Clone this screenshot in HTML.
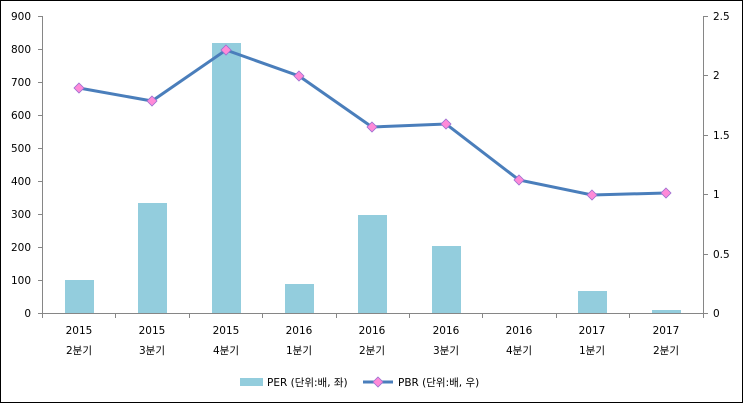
<!DOCTYPE html>
<html><head><meta charset="utf-8"><style>
body{margin:0;background:#fff}
svg{display:block}
text{font-family:"DejaVu Sans","Noto Sans CJK KR",sans-serif;font-size:10.5px;fill:#000}
</style></head><body>
<svg width="743" height="403" xmlns="http://www.w3.org/2000/svg">
<rect x="0.5" y="0.5" width="742" height="402" fill="#fff" stroke="#000"/>
<g stroke="#868686" stroke-width="1">
<line x1="42.5" y1="16" x2="42.5" y2="313"/>
<line x1="703.5" y1="16" x2="703.5" y2="313"/>
<line x1="42" y1="313.5" x2="704" y2="313.5"/>
<line x1="38" y1="16.5" x2="42" y2="16.5"/><line x1="38" y1="49.5" x2="42" y2="49.5"/><line x1="38" y1="82.5" x2="42" y2="82.5"/><line x1="38" y1="115.5" x2="42" y2="115.5"/><line x1="38" y1="148.5" x2="42" y2="148.5"/><line x1="38" y1="181.5" x2="42" y2="181.5"/><line x1="38" y1="214.5" x2="42" y2="214.5"/><line x1="38" y1="247.5" x2="42" y2="247.5"/><line x1="38" y1="280.5" x2="42" y2="280.5"/><line x1="38" y1="313.5" x2="42" y2="313.5"/>
<line x1="704" y1="16.5" x2="708" y2="16.5"/><line x1="704" y1="75.5" x2="708" y2="75.5"/><line x1="704" y1="135.5" x2="708" y2="135.5"/><line x1="704" y1="194.5" x2="708" y2="194.5"/><line x1="704" y1="254.5" x2="708" y2="254.5"/><line x1="704" y1="313.5" x2="708" y2="313.5"/>
<line x1="115.5" y1="313" x2="115.5" y2="318"/><line x1="189.5" y1="313" x2="189.5" y2="318"/><line x1="262.5" y1="313" x2="262.5" y2="318"/><line x1="336.5" y1="313" x2="336.5" y2="318"/><line x1="409.5" y1="313" x2="409.5" y2="318"/><line x1="482.5" y1="313" x2="482.5" y2="318"/><line x1="556.5" y1="313" x2="556.5" y2="318"/><line x1="629.5" y1="313" x2="629.5" y2="318"/><line x1="42.5" y1="313" x2="42.5" y2="318"/><line x1="703.5" y1="313" x2="703.5" y2="318"/>
</g>
<g text-anchor="end">
<text x="31" y="20">900</text><text x="31" y="53">800</text><text x="31" y="86">700</text><text x="31" y="119">600</text><text x="31" y="152">500</text><text x="31" y="185">400</text><text x="31" y="218">300</text><text x="31" y="251">200</text><text x="31" y="284">100</text><text x="31" y="317">0</text>
</g>
<g>
<text x="713" y="20">2.5</text><text x="713" y="79">2</text><text x="713" y="139">1.5</text><text x="713" y="198">1</text><text x="713" y="258">0.5</text><text x="713" y="317">0</text>
</g>
<g fill="#93cddd">
<rect x="65" y="280" width="29" height="33"/>
<rect x="138" y="203" width="29" height="110"/>
<rect x="212" y="43" width="29" height="270"/>
<rect x="285" y="284" width="29" height="29"/>
<rect x="358" y="215" width="29" height="98"/>
<rect x="432" y="246" width="29" height="67"/>
<rect x="578" y="291" width="29" height="22"/>
<rect x="652" y="310" width="29" height="3"/>
</g>
<polyline fill="none" stroke="#4a7ebb" stroke-width="3" points="79,88 152,101 226,50 299,76 372,127 446,124 519,180 592,195 666,193"/>
<g fill="#ff8ad8" stroke="#9b6fd0" stroke-width="0.8">
<path d="M79,83l5,5l-5,5l-5,-5z"/><path d="M152,96l5,5l-5,5l-5,-5z"/><path d="M226,45l5,5l-5,5l-5,-5z"/><path d="M299,71l5,5l-5,5l-5,-5z"/><path d="M372,122l5,5l-5,5l-5,-5z"/><path d="M446,119l5,5l-5,5l-5,-5z"/><path d="M519,175l5,5l-5,5l-5,-5z"/><path d="M592,190l5,5l-5,5l-5,-5z"/><path d="M666,188l5,5l-5,5l-5,-5z"/>
</g>
<g text-anchor="middle">
<text x="79" y="334">2015</text><text x="79" y="354">2분기</text>
<text x="152" y="334">2015</text><text x="152" y="354">3분기</text>
<text x="226" y="334">2015</text><text x="226" y="354">4분기</text>
<text x="299" y="334">2016</text><text x="299" y="354">1분기</text>
<text x="372" y="334">2016</text><text x="372" y="354">2분기</text>
<text x="446" y="334">2016</text><text x="446" y="354">3분기</text>
<text x="519" y="334">2016</text><text x="519" y="354">4분기</text>
<text x="592" y="334">2017</text><text x="592" y="354">1분기</text>
<text x="666" y="334">2017</text><text x="666" y="354">2분기</text>
</g>
<rect x="240" y="378" width="23" height="8" fill="#93cddd"/>
<text x="267" y="386">PER (단위:배, 좌)</text>
<line x1="363" y1="382" x2="393" y2="382" stroke="#4a7ebb" stroke-width="3"/>
<path d="M378,377l5,5l-5,5l-5,-5z" fill="#ff8ad8" stroke="#9b6fd0" stroke-width="0.8"/>
<text x="398" y="386">PBR (단위:배, 우)</text>
</svg>
</body></html>
